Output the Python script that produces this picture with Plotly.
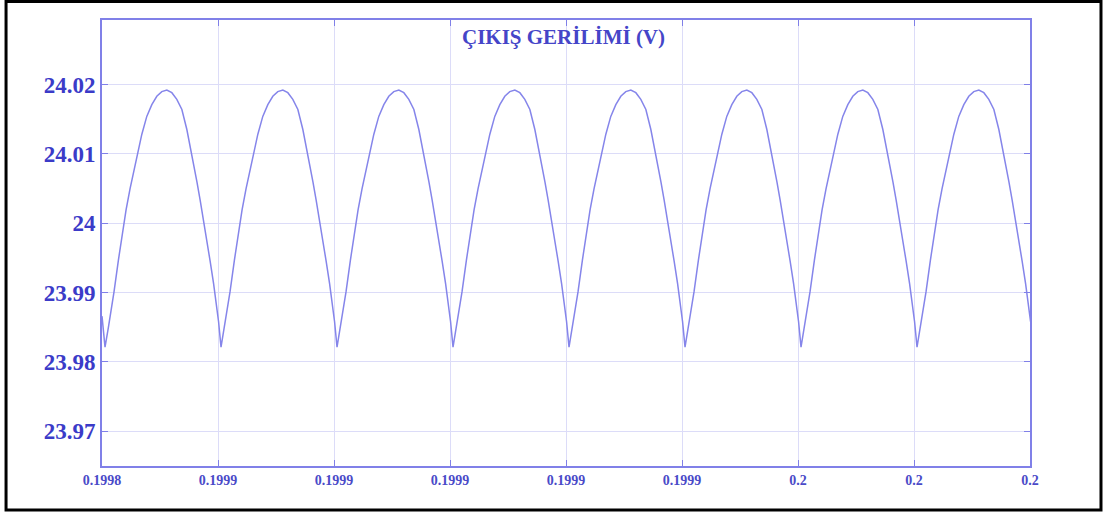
import plotly.graph_objects as go

# --- data ---
# one ripple cycle (offset from trough in microseconds, voltage)
cycle_offset_us = [0.00, 0.59, 1.16, 1.55, 2.31, 3.06, 3.63, 4.32, 5.18, 5.60,
                   6.34, 7.20, 8.07, 8.93, 9.79, 10.66, 11.52, 12.38, 13.25,
                   14.11, 14.68, 15.15, 15.84, 16.41, 16.70, 17.27, 18.13,
                   18.72, 19.12, 19.58]
cycle_values = [23.98213, 23.98503, 23.98793, 23.99010, 23.99469, 23.99903,
                24.00193, 24.00500, 24.00850, 24.01010, 24.01280, 24.01540,
                24.01710, 24.01830, 24.01897, 24.01920, 24.01882, 24.01785,
                24.01640, 24.01351, 24.01120, 24.00920, 24.00600, 24.00330,
                24.00190, 23.99900, 23.99450, 23.99130, 23.98900, 23.98580]
# trough instants of the 8 visible cycles (s)
trough_times = [0.19984052, 0.19986052, 0.19988052, 0.19990052,
                0.19992052, 0.19994052, 0.19996052, 0.19998052]
start_point = (0.19984, 23.9866)
end_point = (0.20000, 23.9866)

x_tickvals = [0.19984, 0.19986, 0.19988, 0.19990, 0.19992, 0.19994, 0.19996, 0.19998, 0.20000]
x_ticktext = ["0.1998", "0.1999", "0.1999", "0.1999", "0.1999", "0.1999", "0.2", "0.2", "0.2"]
y_tickvals = [23.97, 23.98, 23.99, 24.00, 24.01, 24.02]
y_ticktext = ["23.97", "23.98", "23.99", "24", "24.01", "24.02"]

t = [start_point[0]]
v = [start_point[1]]
for tt in trough_times:
    for off, val in zip(cycle_offset_us, cycle_values):
        t.append(tt + off * 1e-6)
        v.append(val)
t.append(end_point[0])
v.append(end_point[1])

text_col = "#3b3bc8"
axis_col = "#8080e8"
grid_col = "#dcdcf8"

fig = go.Figure()
fig.add_trace(go.Scatter(x=t, y=v, mode="lines", line=dict(color="#8585ea", width=1.5),
                         showlegend=False, hoverinfo="skip"))

fig.update_layout(
    width=1107, height=513,
    margin=dict(l=102, r=77, t=20, b=47),
    paper_bgcolor="white", plot_bgcolor="white",
    annotations=[dict(text="<b>ÇIKIŞ GERİLİMİ (V)</b>", xref="paper", yref="paper",
                      x=0.4975, y=0.961, xanchor="center", yanchor="middle", showarrow=False,
                      font=dict(family="Liberation Serif", size=21, color="#4545c8"))],
)
fig.update_xaxes(range=[0.19984, 0.20000], tickvals=x_tickvals,
                 ticktext=["<b>" + s + "</b>" for s in x_ticktext],
                 showgrid=True, gridcolor=grid_col, gridwidth=1,
                 showline=True, linecolor=axis_col, linewidth=2, mirror="ticks",
                 ticks="inside", ticklen=6, tickcolor=axis_col, zeroline=False,
                 tickfont=dict(family="Liberation Serif", size=14, color="#4a4ac8"))
fig.update_yaxes(range=[23.965, 24.0293], tickvals=y_tickvals,
                 ticktext=["<b>" + s + "</b>" for s in y_ticktext],
                 showgrid=True, gridcolor=grid_col, gridwidth=1,
                 showline=True, linecolor=axis_col, linewidth=2, mirror="ticks",
                 ticks="inside", ticklen=6, tickcolor=axis_col, zeroline=False,
                 tickfont=dict(family="Liberation Serif", size=23, color=text_col))

# outer black frame
fig.add_shape(type="rect", xref="paper", yref="paper",
              x0=-0.1034, x1=1.0765, y0=-0.0985, y1=1.0414,
              line=dict(color="black", width=3), fillcolor="rgba(0,0,0,0)", layer="above")

fig.write_html("out.html")
